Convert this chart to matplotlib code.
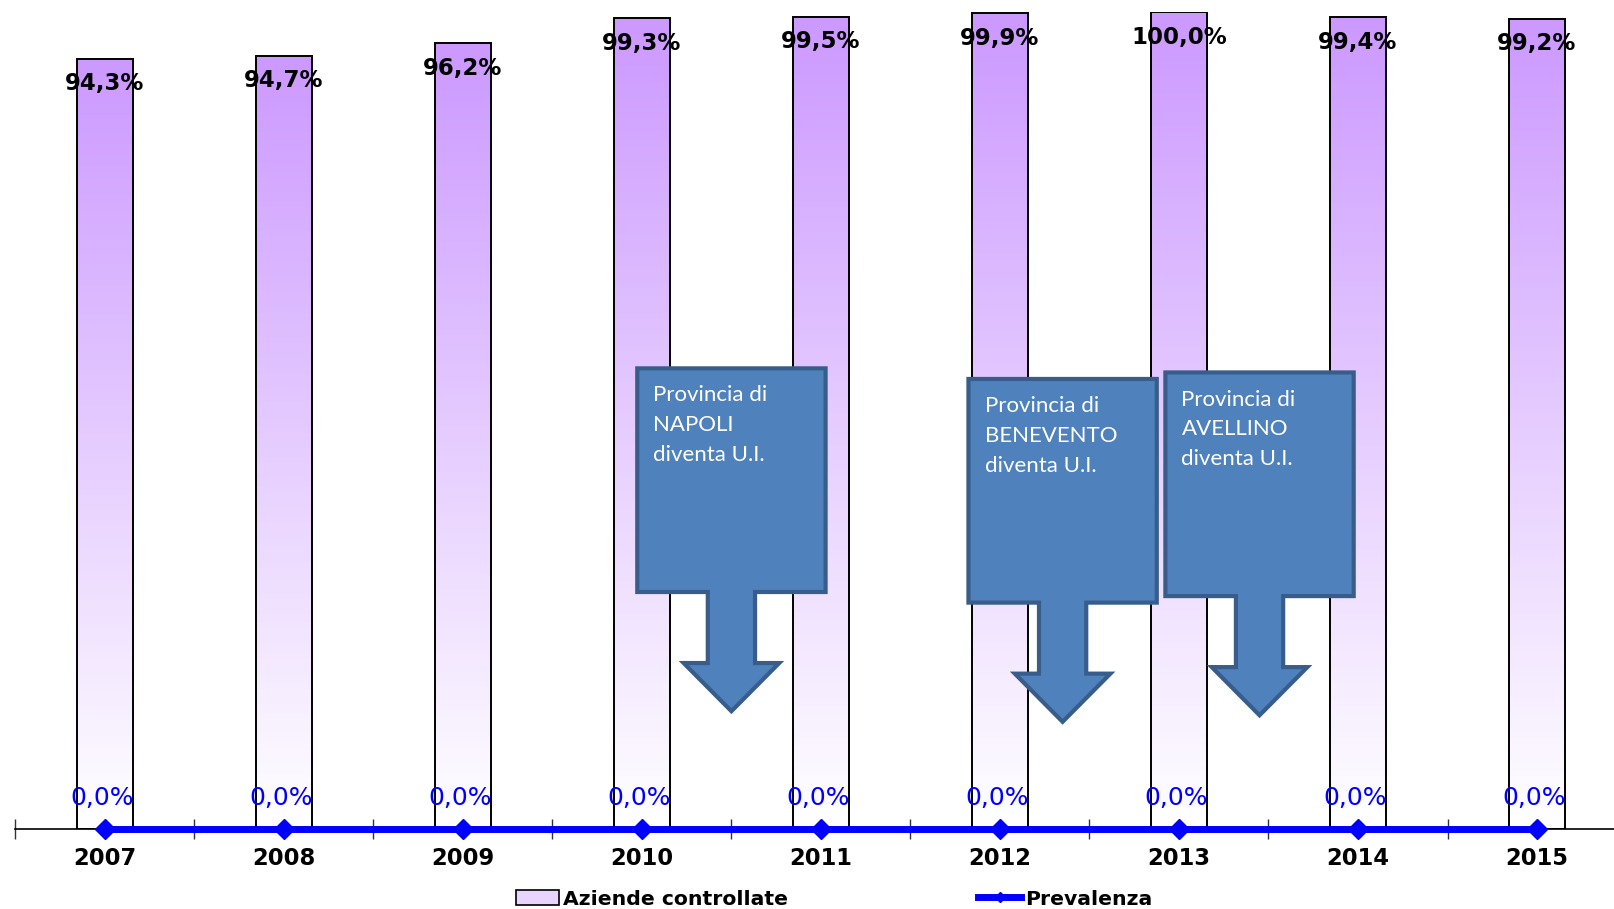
import numpy as np
import matplotlib
matplotlib.use('Agg')
import matplotlib.pyplot as plt
from matplotlib.colors import LinearSegmentedColormap
from matplotlib.patches import Polygon, Patch
from matplotlib.lines import Line2D

# data
anni = ['2007', '2008', '2009', '2010', '2011', '2012', '2013', '2014', '2015']
aziende = [94.3, 94.7, 96.2, 99.3, 99.5, 99.9, 100.0, 99.4, 99.2]
prevalenza = [0.0, 0.0, 0.0, 0.0, 0.0, 0.0, 0.0, 0.0, 0.0]
callout_testi = ['Provincia di\nNAPOLI\ndiventa U.I.',
                 'Provincia di\nBENEVENTO\ndiventa U.I.',
                 'Provincia di\nAVELLINO\ndiventa U.I.']
callout_x = [3.5, 5.35, 6.45]
callout_top = [56.4, 55.1, 55.9]

def fmt(v):
    return ('%.1f%%' % v).replace('.', ',')

fig = plt.figure(figsize=(16.14, 9.09), dpi=100)
ax = fig.add_axes([0.0095, 0.0883, 1 - 0.0095, 0.898])

x = np.arange(len(anni))
w = 0.316
cmap = LinearSegmentedColormap.from_list('viola', ['#ffffff', '#cc99ff'])
grad = np.linspace(0, 1, 256).reshape(-1, 1)

for xi, v in zip(x, aziende):
    ax.imshow(grad, cmap=cmap, aspect='auto', origin='lower',
              extent=(xi - w/2, xi + w/2, 0, v), zorder=1, interpolation='bicubic')
ax.bar(x, aziende, width=w, facecolor='none', edgecolor='black', linewidth=1.4, zorder=2)

for xi, v in zip(x, aziende):
    ax.annotate(fmt(v), (xi, v), xytext=(0, -25), textcoords='offset pixels',
                ha='center', va='center', fontsize=16.5, fontweight='bold', color='black', zorder=5)

ax.plot(x, prevalenza, color='#0000ff', linewidth=5, marker='D', markersize=10,
        zorder=4, clip_on=False)
for xi, v in zip(x, prevalenza):
    ax.annotate(fmt(v), (xi, v), xytext=(-3, 31), textcoords='offset pixels',
                ha='center', va='center', fontsize=18, color='#0000ff', zorder=5)

# callouts
bw, sw, hw = 0.526, 0.132, 0.267
for cx, top, testo in zip(callout_x, callout_top, callout_testi):
    bot = top - 27.4
    yh = bot - 8.7
    yt = yh - 5.9
    pts = [(cx - bw, top), (cx + bw, top), (cx + bw, bot), (cx + sw, bot), (cx + sw, yh),
           (cx + hw, yh), (cx, yt), (cx - hw, yh), (cx - sw, yh), (cx - sw, bot),
           (cx - bw, bot)]
    ax.add_patch(Polygon(pts, closed=True, facecolor='#4f81bd', edgecolor='#385d8a',
                         linewidth=3, joinstyle='miter', zorder=6))
    ax.text(cx - bw + 0.09, top - 2.1, testo, ha='left', va='top', color='white',
            fontsize=16, family='Lato', linespacing=1.62, zorder=7)

ax.set_xlim(-0.5, 8.43)
ax.set_ylim(0, 100)
for s in ['top', 'right', 'left']:
    ax.spines[s].set_visible(False)
ax.spines['bottom'].set_color('black')
ax.spines['bottom'].set_linewidth(1.2)
ax.set_yticks([])
ax.set_xticks(x)
ax.set_xticklabels(anni, fontsize=16.3, fontweight='bold')
ax.tick_params(axis='x', which='major', length=0, pad=13)
ax.set_xticks(np.arange(-0.5, 8.5, 1), minor=True)
ax.tick_params(axis='x', which='minor', direction='inout', length=14, width=1, color='#333333')

handles = [Patch(facecolor='#e8d4ff', edgecolor='black', linewidth=1.2),
           Line2D([0], [0], color='#0000ff', linewidth=5, marker='D', markersize=5)]
fig.legend(handles, ['Aziende controllate', 'Prevalenza'], loc='center',
           bbox_to_anchor=(0.517, 0.011), ncol=2, frameon=False,
           prop={'size': 14.7, 'weight': 'bold'}, handlelength=2.1, handletextpad=0.2,
           columnspacing=9.3)

fig.savefig('out.png', dpi=100)
